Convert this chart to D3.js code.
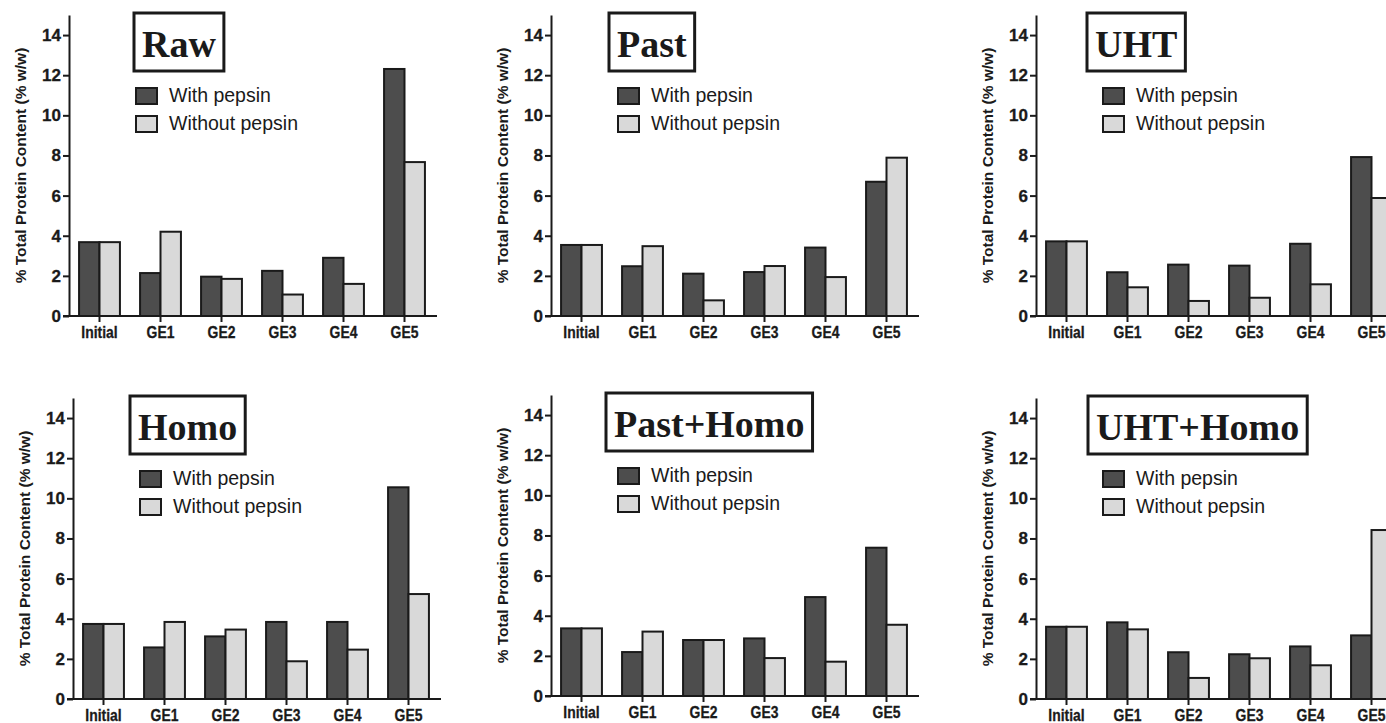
<!DOCTYPE html>
<html>
<head>
<meta charset="utf-8">
<script src="https://cdn.jsdelivr.net/npm/d3@7/dist/d3.min.js"></script>
<style>
  html, body { margin: 0; padding: 0; background: #ffffff; }
  svg { display: block; }
  text { fill: #1a1a1a; }
</style>
</head>
<body>
<svg id="chart" width="1386" height="723"></svg>
<script>
// Gastric emptying fractions: % of total protein content per digestion stage
const categories = ["Initial", "GE1", "GE2", "GE3", "GE4", "GE5"];
const seriesNames = ["With pepsin", "Without pepsin"];
const yTicks = [0, 2, 4, 6, 8, 10, 12, 14];
const yMax = 15;
const yTitle = "% Total Protein Content (% w/w)";

const panelTitles = ["Raw", "Past", "UHT", "Homo", "Past+Homo", "UHT+Homo"];

const rawWith        = [3.68, 2.14, 1.96, 2.25, 2.90, 12.31];
const rawWithout     = [3.68, 4.20, 1.85, 1.07, 1.60, 7.67];
const pastWith       = [3.54, 2.48, 2.11, 2.19, 3.41, 6.69];
const pastWithout    = [3.54, 3.48, 0.78, 2.49, 1.94, 7.89];
const uhtWith        = [3.72, 2.18, 2.56, 2.51, 3.60, 7.92];
const uhtWithout     = [3.72, 1.43, 0.75, 0.91, 1.58, 5.88];
const homoWith       = [3.74, 2.57, 3.12, 3.84, 3.84, 10.55];
const homoWithout    = [3.74, 3.84, 3.46, 1.88, 2.46, 5.23];
const pastHomoWith   = [3.37, 2.19, 2.79, 2.87, 4.93, 7.39];
const pastHomoWithout= [3.37, 3.21, 2.79, 1.89, 1.71, 3.55];
const uhtHomoWith    = [3.60, 3.82, 2.33, 2.23, 2.62, 3.17];
const uhtHomoWithout = [3.60, 3.47, 1.05, 2.03, 1.68, 8.42];

const panelSeries = [
  [rawWith, rawWithout],
  [pastWith, pastWithout],
  [uhtWith, uhtWithout],
  [homoWith, homoWithout],
  [pastHomoWith, pastHomoWithout],
  [uhtHomoWith, uhtHomoWithout]
];

// Placement of each small chart (axis origin) and its title box offset
const layout = [
  { x: 69,   y: 316, titleX: 65 },
  { x: 551,  y: 316, titleX: 58 },
  { x: 1036, y: 316, titleX: 51 },
  { x: 73,   y: 699, titleX: 57 },
  { x: 551,  y: 696, titleX: 55 },
  { x: 1036, y: 699, titleX: 52 }
];

const colors = ["#4d4d4d", "#d9d9d9"];
const ink = "#1a1a1a";
const sansFont = "'Liberation Sans', Arial, Helvetica, sans-serif";
const serifFont = "'Liberation Serif', 'Times New Roman', serif";

const plotW = 366, plotH = 301;

const svg = d3.select("#chart");

panelTitles.forEach((title, p) => {
  const L = layout[p];
  const g = svg.append("g").attr("transform", `translate(${L.x},${L.y})`);

  const y = d3.scaleLinear().domain([0, yMax]).range([0, -plotH]);
  const x = d3.scaleBand().domain(categories).range([0, plotW])
    .paddingInner(0.33).paddingOuter(0.165);
  const sub = d3.scaleBand().domain(seriesNames).range([0, x.bandwidth()]);

  // bars
  const rows = [];
  categories.forEach((c, i) => {
    seriesNames.forEach((s, k) => {
      rows.push({ c, s, k, v: panelSeries[p][k][i] });
    });
  });
  g.append("g").selectAll("rect").data(rows).join("rect")
    .attr("x", d => x(d.c) + sub(d.s))
    .attr("y", d => y(d.v))
    .attr("width", sub.bandwidth())
    .attr("height", d => y(0) - y(d.v))
    .attr("fill", d => colors[d.k])
    .attr("stroke", ink)
    .attr("stroke-width", 2);

  // y axis
  const yAxis = g.append("g")
    .call(d3.axisLeft(y).tickValues(yTicks).tickSize(6).tickSizeOuter(0).tickPadding(2));
  yAxis.select(".domain").attr("stroke", ink).attr("stroke-width", 2);
  yAxis.selectAll(".tick line").attr("stroke", ink).attr("stroke-width", 2);
  yAxis.selectAll(".tick text")
    .attr("font-family", sansFont).attr("font-weight", "bold")
    .attr("font-size", 17).attr("fill", ink)
    .attr("stroke", ink).attr("stroke-width", 0.3);

  // x axis
  const xAxis = g.append("g")
    .call(d3.axisBottom(x).tickSize(6).tickSizeOuter(0).tickPadding(4));
  xAxis.select(".domain").remove();
  xAxis.append("line")
    .attr("x1", -6).attr("x2", plotW + 2)
    .attr("y1", 0).attr("y2", 0)
    .attr("stroke", ink).attr("stroke-width", 2);
  xAxis.selectAll(".tick line").attr("stroke", ink).attr("stroke-width", 2);
  xAxis.selectAll(".tick text")
    .attr("font-family", sansFont).attr("font-weight", "bold")
    .attr("font-size", 17).attr("fill", ink)
    .attr("stroke", ink).attr("stroke-width", 0.3)
    .attr("transform", "scale(0.82,1)");

  // y axis title
  g.append("text")
    .attr("transform", `translate(-49,${y(yMax / 2)}) rotate(-90)`)
    .attr("text-anchor", "middle")
    .attr("dominant-baseline", "central")
    .attr("font-family", sansFont).attr("font-weight", "bold")
    .attr("font-size", 15.5)
    .text(yTitle);

  // boxed title
  const tg = g.append("g");
  const tText = tg.append("text")
    .attr("x", L.titleX + 8).attr("y", -259)
    .attr("font-family", serifFont).attr("font-weight", "bold")
    .attr("font-size", 38).attr("fill", "#111")
    .text(title);
  const tw = tText.node().getComputedTextLength();
  tg.insert("rect", "text")
    .attr("x", L.titleX).attr("y", -303)
    .attr("width", tw + 16).attr("height", 58)
    .attr("fill", "#ffffff")
    .attr("stroke", ink).attr("stroke-width", 3);

  // legend
  const lg = g.append("g").attr("transform", "translate(67,-228)");
  seriesNames.forEach((s, k) => {
    lg.append("rect")
      .attr("x", 0).attr("y", k * 28)
      .attr("width", 21).attr("height", 16)
      .attr("fill", colors[k]).attr("stroke", ink).attr("stroke-width", 2);
    lg.append("text")
      .attr("x", 33).attr("y", k * 28 + 14)
      .attr("font-family", sansFont).attr("font-size", 19.5)
      .attr("fill", "#222")
      .text(s);
  });
});
</script>
</body>
</html>
